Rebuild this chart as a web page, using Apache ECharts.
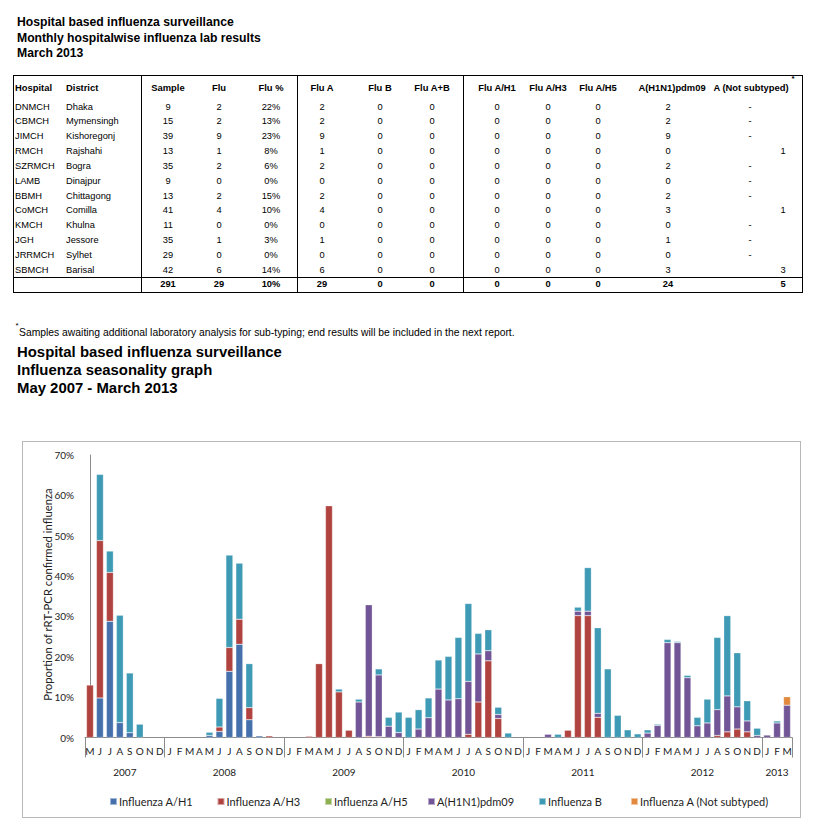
<!DOCTYPE html>
<html><head><meta charset="utf-8">
<script src="https://cdn.jsdelivr.net/npm/echarts@6.0.0/dist/echarts.min.js"></script>
<style>
body{margin:0;background:#fff;width:813px;height:831px;position:relative;overflow:hidden;font-family:"Liberation Sans",Arial,sans-serif;color:#000}
.t{position:absolute;white-space:nowrap;line-height:1}
.ln{position:absolute;background:#000}
#box{position:absolute;left:22px;top:441px;width:777px;height:375px;border:1px solid #b8b8b8}
#chart{position:absolute;left:0;top:430px;width:813px;height:401px}
</style></head>
<body>
<div id="box"></div>
<div id="chart"></div>
<script>
// ---------- table data ----------
const hospitals = ['DNMCH','CBMCH','JIMCH','RMCH','SZRMCH','LAMB','BBMH','CoMCH','KMCH','JGH','JRRMCH','SBMCH'];
const districts = ['Dhaka','Mymensingh','Kishoregonj','Rajshahi','Bogra','Dinajpur','Chittagong','Comilla','Khulna','Jessore','Sylhet','Barisal'];
const samples   = [9,15,39,13,35,9,13,41,11,35,29,42];
const fluPos    = [2,2,9,1,2,0,2,4,0,1,0,6];
const fluPct    = ['22%','13%','23%','8%','6%','0%','15%','10%','0%','3%','0%','14%'];
const fluA      = [2,2,9,1,2,0,2,4,0,1,0,6];
const fluB      = [0,0,0,0,0,0,0,0,0,0,0,0];
const fluAB     = [0,0,0,0,0,0,0,0,0,0,0,0];
const tabH1     = [0,0,0,0,0,0,0,0,0,0,0,0];
const tabH3     = [0,0,0,0,0,0,0,0,0,0,0,0];
const tabH5     = [0,0,0,0,0,0,0,0,0,0,0,0];
const tabPdm    = [2,2,9,0,2,0,2,3,0,1,0,3];
const tabNotSub = ['-','-','-',1,'-','-','-',1,'-','-','-',3];
const totals    = ['', '', 291, 29, '10%', 29, 0, 0, 0, 0, 0, 24, 5];
const headers   = ['Hospital','District','Sample','Flu','Flu %','Flu A','Flu B','Flu A+B','Flu A/H1','Flu A/H3','Flu A/H5','A(H1N1)pdm09','A (Not subtyped)'];

// ---------- chart data (percent, May 2007 - March 2013) ----------
const yearLabels  = ['2007','2008','2009','2010','2011','2012','2013'];
const yearMonths  = [8,12,12,12,12,12,3];
const monthLetters = ['J','F','M','A','M','J','J','A','S','O','N','D'];
const firstMonth = 4; // May
const seriesNames = ['Influenza A/H1','Influenza A/H3','Influenza A/H5','A(H1N1)pdm09','Influenza B','Influenza A (Not subtyped)'];
const seriesColors = ['#4670AC','#B0433F','#8DB052','#715596','#3F9BB5','#E2893D'];

const fluH1 = [
  0,9.8,28.8,3.7,1.2,0,0,0,
  0,0,0,0,0.5,1.5,16.4,23.1,4.4,0.4,0,0,
  0,0,0,0,0,0,0,0,0,0,0,0,
  0,0,0,0,0,0,0,0,0,0,0,0,
  0,0,0,0,0,0,0,0,0,0,0,0,
  0,0,0,0,0,0,0,0,0,0,0,0,
  0,0,0];
const fluH3 = [
  13.0,39.0,12.1,0,0,0,0,0,
  0,0,0,0,0,1.1,5.9,6.2,3.0,0,0.4,0,
  0,0,0.3,18.3,57.4,11.3,1.8,0,0.3,0.2,0,0,
  0,0,0,0,0,0,0.8,8.8,19.0,4.7,0,0,
  0,0,0,0,1.8,30.2,30.2,5.0,0,0,0,0,
  0,0,0,0,0,0,0,0.5,1.4,2.1,1.4,0,
  0,0,0];
const fluH5 = [
  0,0,0,0,0,0,0,0,
  0,0,0,0,0,0,0,0,0,0,0,0,
  0,0,0,0,0,0,0,0,0,0,0,0,
  0,0,0,0,0,0,0,0,0,0,0,0,
  0,0,0,0,0,0,0,0,0,0,0,0,
  0,0,0,0,0,0,0,0,0,0,0,0,
  0,0,0];
const fluPdm = [
  0,0,0,0,0,0,0,0,
  0,0,0,0,0,0,0,0,0,0,0,0,
  0,0,0,0,0,0,0,8.8,32.6,15.3,2.8,1.2,
  0,2.1,4.9,12.0,9.3,9.6,13.1,11.9,2.5,1.0,0,0,
  0,0,0.8,0,0,1.1,1.1,1.0,0,0,0,0,
  1.1,3.0,23.5,23.5,14.8,2.9,3.6,6.4,8.9,5.5,2.7,0.5,
  0.6,3.6,8.0];
const fluBv = [
  0,16.4,5.3,26.6,14.8,3.3,0,0,
  0,0,0,0,0.8,7.1,22.9,13.9,10.9,0,0,0,
  0,0,0,0,0,0.7,0,0.7,0,1.5,2.2,5.1,
  5.0,4.8,4.9,7.2,10.8,15.2,19.3,5.1,5.2,1.8,1.1,0,
  0,0,0,0.8,0,1.0,10.8,21.2,17.0,5.5,1.9,0.9,
  0.8,0.3,0.8,0.3,0.6,2.1,5.9,17.9,19.9,13.4,5.0,1.8,
  0,0.5,0];
const fluNotSub = [
  0,0,0,0,0,0,0,0,
  0,0,0,0,0,0,0,0,0,0,0,0,
  0,0,0,0,0,0,0,0,0,0,0,0,
  0,0,0,0,0,0,0,0,0,0,0,0,
  0,0,0,0,0,0,0,0,0,0,0,0,
  0,0,0,0,0,0,0,0,0,0,0,0,
  0,0,2.1];
const seriesValues = [fluH1, fluH3, fluH5, fluPdm, fluBv, fluNotSub];

// ---------- page texts ----------
function txt(s, x, y, opt) {
  opt = opt || {};
  const d = document.createElement('div');
  d.className = 't';
  d.textContent = s;
  d.style.left = x + 'px';
  d.style.top = y + 'px';
  d.style.fontSize = (opt.size || 9.3) + 'px';
  if (opt.bold) d.style.fontWeight = 'bold';
  const tx = opt.align === 'left' ? '0' : '-50%';
  d.style.transform = 'translate(' + tx + ',-50%)';
  document.body.appendChild(d);
  return d;
}
function line(x, y, w, h) {
  const d = document.createElement('div');
  d.className = 'ln';
  d.style.left = x + 'px'; d.style.top = y + 'px';
  d.style.width = w + 'px'; d.style.height = h + 'px';
  document.body.appendChild(d);
}
['Hospital based influenza surveillance','Monthly hospitalwise influenza lab results','March 2013']
  .forEach((s, i) => txt(s, 17, 22 + i * 15.5, {size: 12.2, bold: true, align: 'left'}));
['Hospital based influenza surveillance','Influenza seasonality graph','May 2007 - March 2013']
  .forEach((s, i) => txt(s, 17, 352 + i * 18.2, {size: 14.9, bold: true, align: 'left'}));
txt('*', 15.5, 326, {size: 8, align: 'left'});
txt('Samples awaiting additional laboratory analysis for sub-typing; end results will be included in the next report.', 19, 332.5, {size: 10.35, align: 'left'});

// table frame
const tL = 13, tR = 802, tT = 75, tB = 292;
line(tL, tT, tR - tL, 1); line(tL, tB, tR - tL, 1);
line(tL, tT, 1, tB - tT); line(tR, tT, 1, tB - tT + 1);
[141, 297, 463].forEach(x => line(x, tT, 1, tB - tT));
line(tL, 277, tR - tL, 1);

const colX = [15, 66, 168, 219, 271, 322, 380, 432, 497, 548, 598, 668, 750];
const colAlign = ['left','left'];
const headerX = colX.slice(); headerX[11] = 672; headerX[12] = 751;
headers.forEach((h, c) => txt(h, headerX[c], 88, {size: 9.4, bold: true, align: colAlign[c] || 'center'}));
txt('*', 793, 79, {size: 8, bold: true});
const cols = [hospitals, districts, samples, fluPos, fluPct, fluA, fluB, fluAB, tabH1, tabH3, tabH5, tabPdm, tabNotSub];
const notSubNumX = 783;
for (let r = 0; r < hospitals.length; r++) {
  const y = 107.5 + r * 14.85;
  cols.forEach((arr, c) => {
    let x = colX[c];
    if (c === 12 && arr[r] !== '-') x = notSubNumX;
    txt(String(arr[r]), x, y, {align: colAlign[c] || 'center'});
  });
}
totals.forEach((v, c) => {
  if (v === '') return;
  txt(String(v), c === 12 ? notSubNumX : colX[c], 284.5, {bold: true});
});

// ---------- chart ----------
const months = [];
const yearStart = [];
const yearCenter = {};
let idx = 0;
yearLabels.forEach((y, k) => {
  yearStart.push(idx);
  const m0 = k === 0 ? firstMonth : 0;
  for (let m = 0; m < yearMonths[k]; m++) months.push(monthLetters[m0 + m]);
  yearCenter[Math.round((idx + yearMonths[k] / 2 - 0.5) * 2)] = y;
  idx += yearMonths[k];
});
const yearStartSet = new Set(yearStart);
const n = months.length;

const chart = echarts.init(document.getElementById('chart'), null, {renderer: 'svg', width: 813, height: 401});
const FONT = 'Lato, "Open Sans", sans-serif';
const legendX = [109, 216.5, 324, 427, 538, 630];
chart.setOption({
  animation: false,
  grid: {left: 85, width: 707, top: 25, height: 282.5},
  xAxis: [{
    type: 'category', data: months, boundaryGap: true,
    axisLine: {lineStyle: {color: '#8c8c8c', width: 1}},
    axisTick: {show: true, interval: (i) => yearStartSet.has(i), length: 20, lineStyle: {color: '#8c8c8c'}},
    axisLabel: {interval: 0, fontSize: 10, fontFamily: FONT, color: '#222', margin: 8}
  }, {
    type: 'value', position: 'bottom', min: -0.5, max: n - 0.5, interval: 0.5,
    axisLine: {show: false}, axisTick: {show: false}, splitLine: {show: false},
    axisLabel: {
      fontSize: 10, fontFamily: FONT, color: '#222', margin: 29,
      showMinLabel: true, showMaxLabel: true, hideOverlap: false,
      formatter: (v) => yearCenter[Math.round(v * 2)] || ''
    }
  }],
  yAxis: {
    type: 'value', min: 0, max: 70, interval: 10,
    axisLine: {show: true, lineStyle: {color: '#8c8c8c'}},
    axisTick: {show: false}, splitLine: {show: false},
    axisLabel: {formatter: (v) => v + '%', fontSize: 10, fontFamily: FONT, color: '#222', margin: 11}
  },
  legend: seriesNames.map((nm, k) => ({
    left: legendX[k], top: 366, padding: 0, itemWidth: 7, itemHeight: 7, icon: 'rect',
    textStyle: {fontFamily: FONT, fontSize: 11, color: '#222', padding: [0, 0, 0, -3]}, data: [nm]
  })),
  graphic: [{
    type: 'text', x: 47.5, y: 164.5, rotation: Math.PI / 2,
    style: {text: 'Proportion of rRT-PCR confirmed influenza', fontSize: 11.3, fontFamily: FONT, fill: '#222', align: 'center', verticalAlign: 'middle'}
  }],
  series: seriesNames.map((nm, k) => ({
    type: 'bar', name: nm, stack: 'flu', xAxisIndex: 0, yAxisIndex: 0, barWidth: 7,
    data: seriesValues[k].map(v => v > 0 ? v : null),
    itemStyle: {color: seriesColors[k], borderColor: 'rgba(255,255,255,0.5)', borderWidth: 0.5}
  }))
});
</script>
</body></html>
